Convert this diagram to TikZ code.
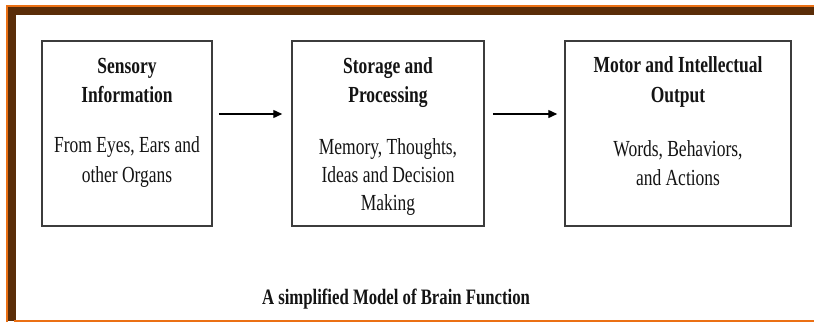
\documentclass[tikz,border=0pt]{standalone}
\usepackage{fontspec}
\newfontfamily\cond[FakeStretch=0.76]{Liberation Serif}
\usetikzlibrary{arrows.meta}
\definecolor{framebrown}{RGB}{90,45,8}
\definecolor{frameorange}{RGB}{235,112,20}
\definecolor{boxline}{RGB}{60,60,60}
\definecolor{txt}{RGB}{20,20,20}
\tikzset{
  box/.style={draw=boxline, line width=1.5pt, minimum width=170pt, minimum height=185pt, inner sep=0pt},
  ttl/.style={anchor=base, inner sep=0pt, text=txt, font=\cond\bfseries\fontsize{23}{28}\selectfont},
  body/.style={anchor=base, inner sep=0pt, text=txt, font=\cond\fontsize{23}{28}\selectfont},
  flow/.style={line width=1.4pt, -{Triangle[length=9pt,width=8pt]}}
}
\begin{document}
\begin{tikzpicture}[x=1pt,y=-1pt]
\useasboundingbox (0,0) rectangle (814,322);
\fill[white] (0,0) rectangle (814,322);
% frame
\fill[frameorange] (6,5) rectangle (814,7);
\fill[frameorange] (6,5) rectangle (8,322);
\fill[framebrown] (8,7) rectangle (814,15);
\fill[framebrown] (8,7) rectangle (16,321);
\fill[frameorange] (14,320) rectangle (814,322);
% boxes
\node[box, minimum width=170pt] (b1) at (127,133.5) {};
\node[box, minimum width=192pt] (b2) at (388,133.5) {};
\node[box, minimum width=226pt] (b3) at (678,133.5) {};
% texts box 1
\node[ttl] (t1a) at (127,73) {Sensory};
\node[ttl] (t1b) at (127,102) {Information};
\node[body] (s1a) at (127,152) {From Eyes, Ears and};
\node[body] (s1b) at (127,182) {other Organs};
% texts box 2
\node[ttl] (t2a) at (388,73) {Storage and};
\node[ttl] (t2b) at (388,102) {Processing};
\node[body] (s2a) at (388,154) {Memory, Thoughts,};
\node[body] (s2b) at (388,182) {Ideas and Decision};
\node[body] (s2c) at (388,210) {Making};
% texts box 3
\node[ttl] (t3a) at (678,72) {Motor and Intellectual};
\node[ttl] (t3b) at (678,102) {Output};
\node[body] (s3a) at (678,156) {Words, Behaviors,};
\node[body] (s3b) at (678,185) {and Actions};
% arrows
\draw[flow] ([xshift=6pt,yshift=19.5pt]b1.east) -- ([xshift=-9pt,yshift=19.5pt]b2.west);
\draw[flow] ([xshift=8pt,yshift=19.5pt]b2.east) -- ([xshift=-7pt,yshift=19.5pt]b3.west);
% caption
\node[ttl, font=\cond\bfseries\fontsize{22}{26}\selectfont] (cap) at (396,304) {A simplified Model of Brain Function};
\end{tikzpicture}
\end{document}
